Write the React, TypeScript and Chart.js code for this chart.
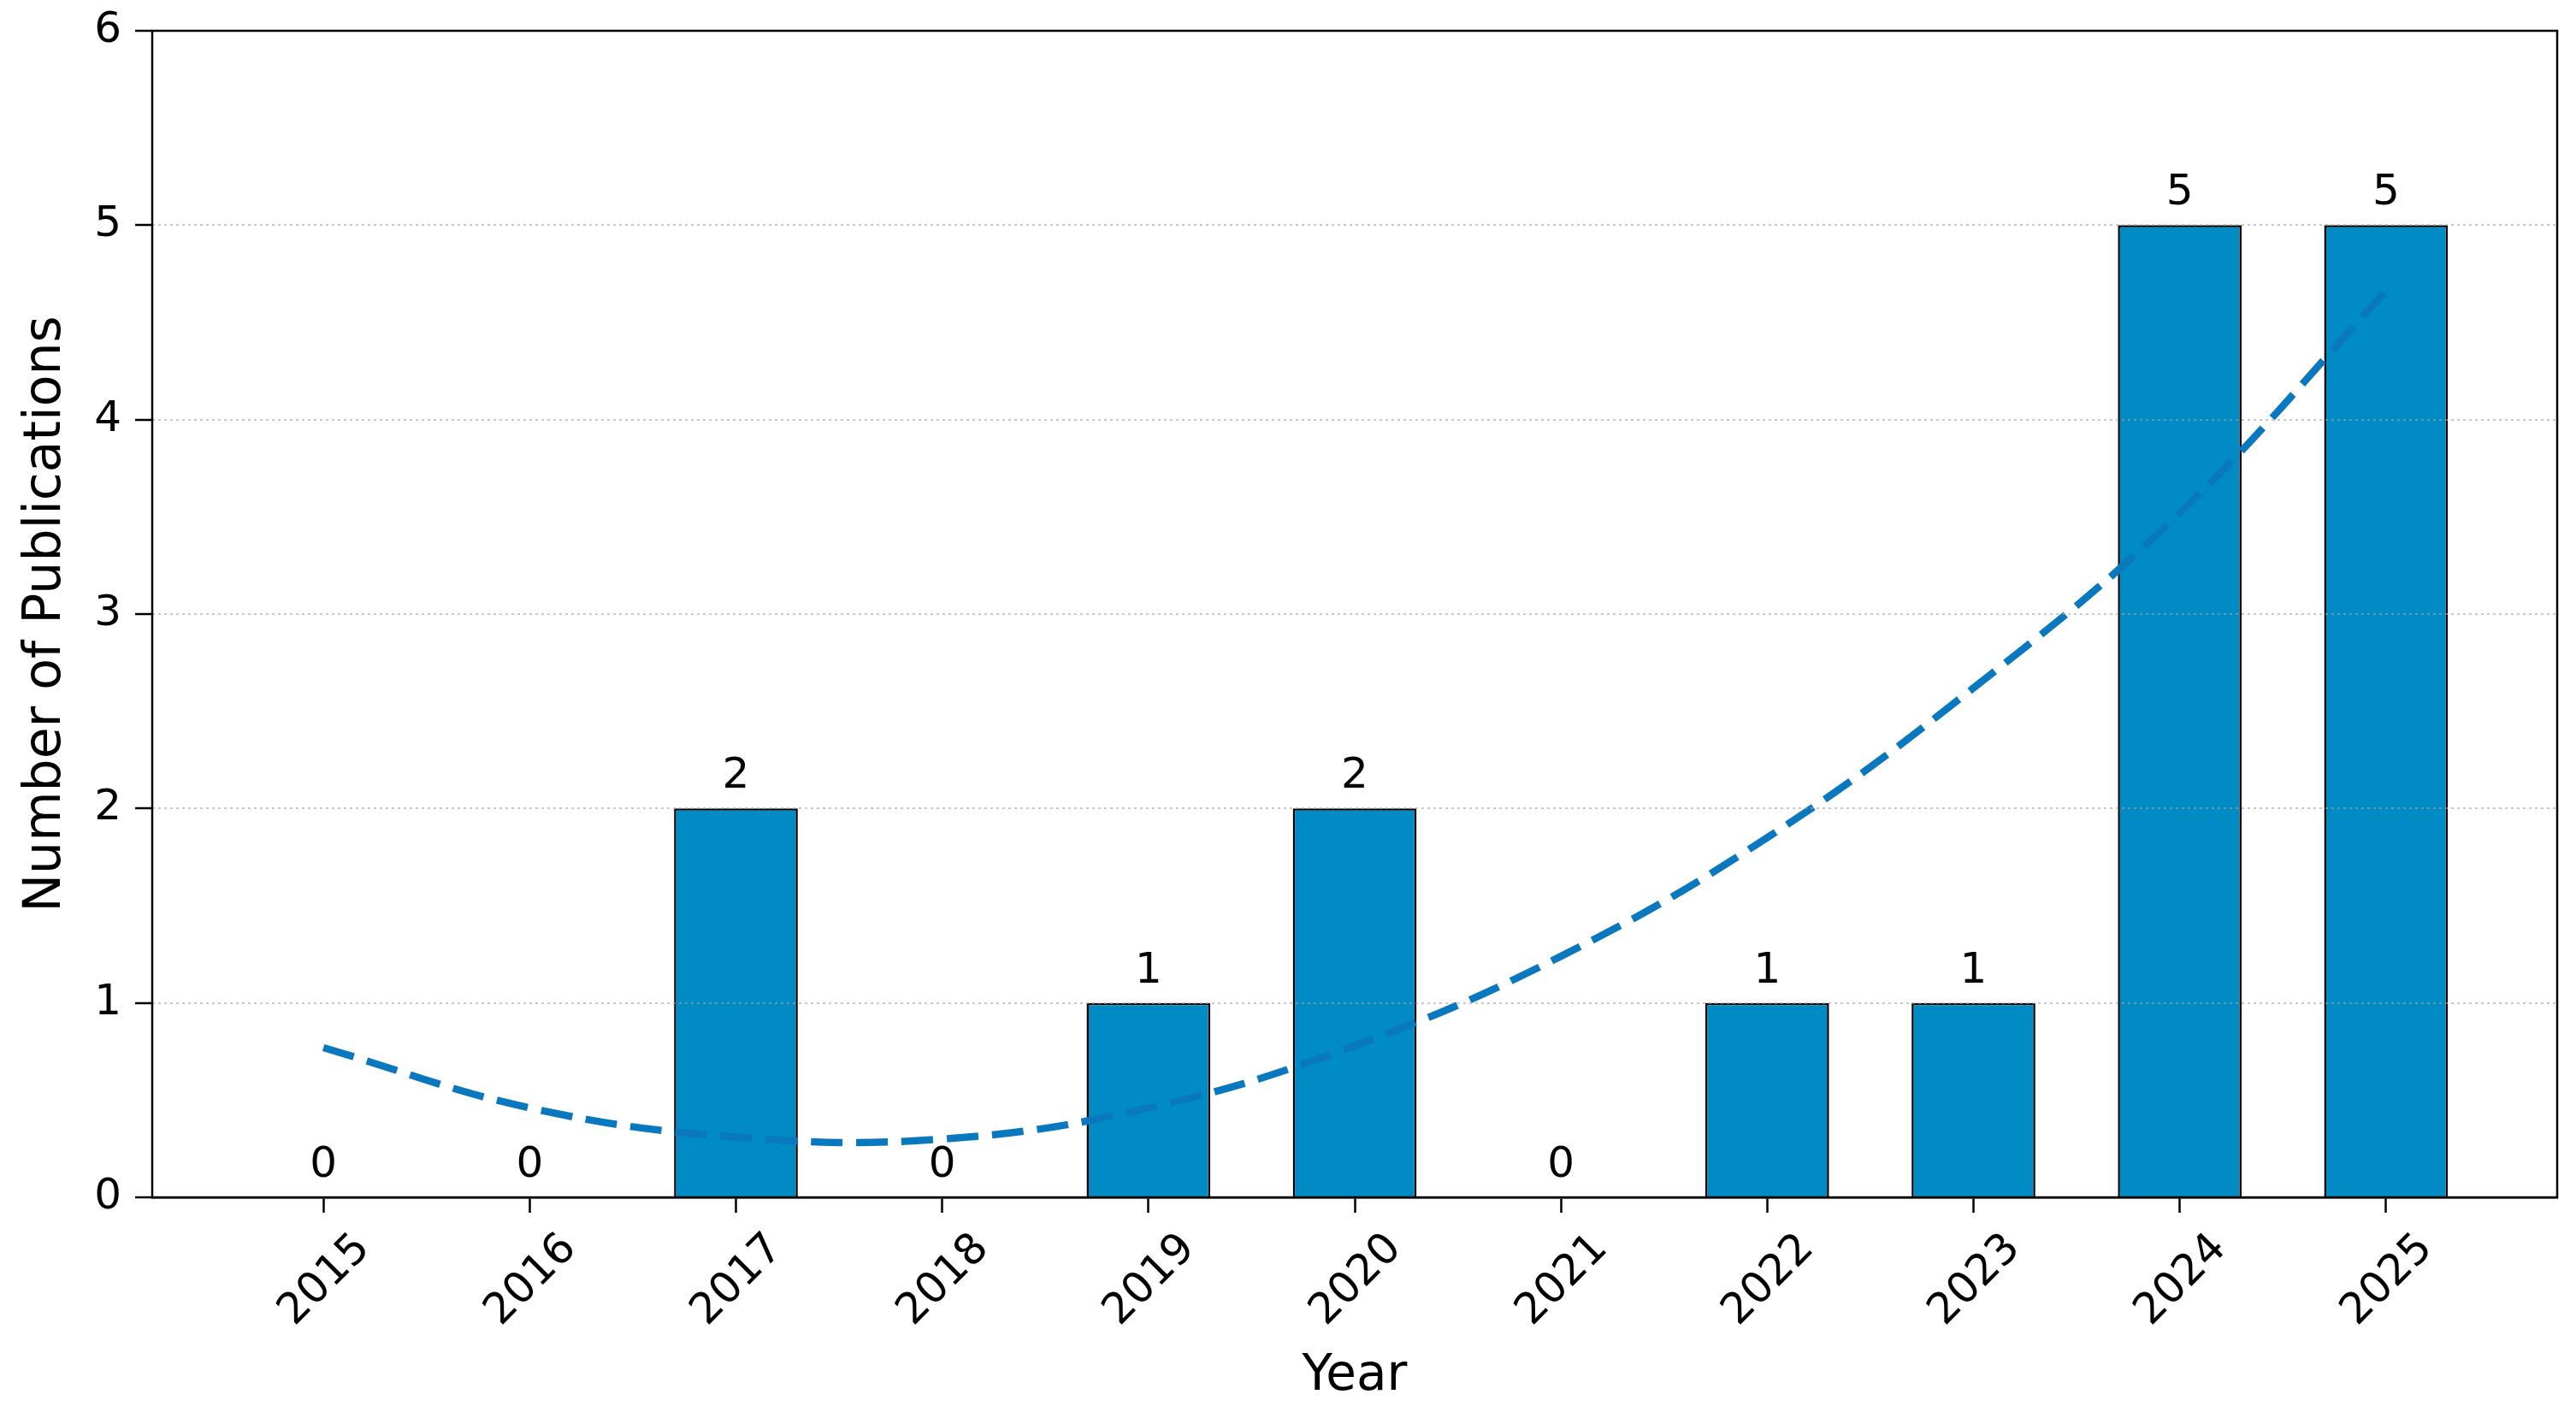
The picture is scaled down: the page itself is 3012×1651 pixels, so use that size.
import React, { useEffect, useRef } from "react";
import { Chart, registerables } from "chart.js";

Chart.register(...registerables);

// ---- data ----
const years = [2015, 2016, 2017, 2018, 2019, 2020, 2021, 2022, 2023, 2024, 2025];
const publications = [0, 0, 2, 0, 1, 2, 0, 1, 1, 5, 5];
const trendValues = [0.77, 0.46, 0.31, 0.3, 0.46, 0.78, 1.24, 1.85, 2.62, 3.52, 4.66];
const yTickValues = [0, 1, 2, 3, 4, 5, 6];
const xAxisLabel = "Year";
const yAxisLabel = "Number of Publications";

const FONT = "'DejaVu Sans', Verdana, sans-serif";

const valueLabelPlugin = {
  id: "valueLabels",
  afterDatasetsDraw(chart: any) {
    const meta = chart.getDatasetMeta(0);
    const ctx = chart.ctx;
    ctx.save();
    ctx.font = `50px ${FONT}`;
    ctx.fillStyle = "#000";
    ctx.textAlign = "center";
    ctx.textBaseline = "alphabetic";
    meta.data.forEach((el: any, i: number) => {
      ctx.fillText(String(publications[i]), el.x, el.y - 24);
    });
    ctx.restore();
  },
};

const framePlugin = {
  id: "frame",
  afterDraw(chart: any) {
    const { left, right, top, bottom } = chart.chartArea;
    const ctx = chart.ctx;
    ctx.save();
    ctx.strokeStyle = "#000";
    ctx.lineWidth = 2.5;
    ctx.strokeRect(left, top, right - left, bottom - top);
    ctx.restore();
  },
};

export default function App() {
  const ref = useRef<HTMLCanvasElement | null>(null);

  useEffect(() => {
    document.body.style.margin = "0";
    const canvas = ref.current;
    if (!canvas) return;
    const chart = new Chart(canvas, {
      data: {
        datasets: [
          {
            type: "bar",
            label: "Publications",
            data: years.map((y, i) => ({ x: y, y: publications[i] })),
            backgroundColor: "#008bc4",
            borderColor: "#000",
            borderWidth: 2.5,
            barPercentage: 0.6,
            categoryPercentage: 1.0,
            order: 1,
          } as any,
          {
            type: "line",
            label: "Trend",
            data: years.map((y, i) => ({ x: y, y: trendValues[i] })),
            borderColor: "#0a78be",
            borderWidth: 8.5,
            borderDash: [37, 16],
            borderCapStyle: "butt",
            pointRadius: 0,
            tension: 0.4,
            fill: false,
            order: 0,
          } as any,
        ],
      },
      options: {
        responsive: false,
        animation: false,
        devicePixelRatio: 1,
        layout: { padding: { left: 0, right: 22, top: 36, bottom: 0 } },
        plugins: {
          legend: { display: false },
          tooltip: { enabled: false },
        },
        scales: {
          x: {
            type: "linear",
            offset: false,
            min: 2014.17,
            max: 2025.83,
            afterBuildTicks: (s: any) => {
              s.ticks = years.map((v) => ({ value: v }));
            },
            afterFit: (s: any) => {
              s.height = 251;
              s.paddingLeft = 0;
              s.paddingRight = 0;
            },
            ticks: {
              callback: (v: any) => String(v),
              font: { family: FONT, size: 50 },
              color: "#000",
              minRotation: 45,
              maxRotation: 45,
              padding: 13,
              labelOffset: 47,
              autoSkip: false,
            },
            grid: {
              offset: false,
              drawOnChartArea: false,
              drawTicks: true,
              tickLength: 18,
              tickColor: "#000",
              tickWidth: 2.5,
            },
            border: { display: true, color: "#000", width: 2.5 },
            title: {
              display: true,
              text: xAxisLabel,
              font: { family: FONT, size: 58 },
              color: "#000",
              padding: { top: 0, bottom: 6 },
            },
          } as any,
          y: {
            min: 0,
            max: 6,
            afterBuildTicks: (s: any) => {
              s.ticks = yTickValues.map((v) => ({ value: v }));
            },
            afterFit: (s: any) => {
              s.width = 178;
              s.paddingTop = 0;
              s.paddingBottom = 0;
            },
            ticks: {
              font: { family: FONT, size: 50 },
              color: "#000",
              padding: 16,
            },
            grid: {
              color: (c: any) =>
                c.tick && (c.tick.value === 0 || c.tick.value === 6)
                  ? "rgba(0,0,0,0)"
                  : "rgba(165,165,165,0.6)",
              lineWidth: 2,
              z: 1,
              drawTicks: true,
              tickLength: 20,
              tickColor: "#000",
              tickWidth: 2.5,
              tickBorderDash: [],
            },
            border: { display: false, color: "#000", width: 2.5, dash: [3, 4] },
            title: {
              display: true,
              text: yAxisLabel,
              font: { family: FONT, size: 60 },
              color: "#000",
              padding: { top: 18, bottom: 0 },
            },
          } as any,
        },
      },
      plugins: [valueLabelPlugin, framePlugin],
    } as any);
    return () => chart.destroy();
  }, []);

  return (
    <div style={{ width: 3012, height: 1651, background: "#fff" }}>
      <canvas ref={ref} width={3012} height={1651} style={{ display: "block" }} />
    </div>
  );
}
